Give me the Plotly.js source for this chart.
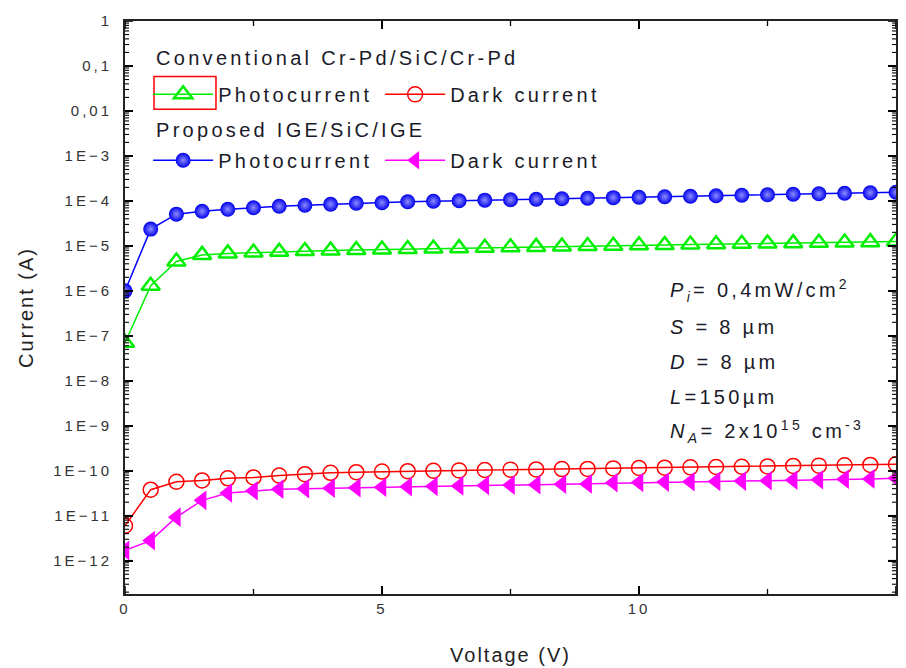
<!DOCTYPE html>
<html><head><meta charset="utf-8">
<script src="https://cdn.plot.ly/plotly-3.0.1.min.js"></script>
<style>
html,body{margin:0;padding:0;background:#fff;}
#chart{width:906px;height:668px;}
.ytick text,.xtick text{letter-spacing:3px;}
.xtitle,.ytitle{letter-spacing:2px;}
.annotation-text{letter-spacing:3.3px;}
.legendtext{letter-spacing:3.3px;}
</style></head><body><div id="chart"></div>
<script>
const voltage = [0,0.5,1,1.5,2,2.5,3,3.5,4,4.5,5,5.5,6,6.5,7,7.5,8,8.5,9,9.5,10,10.5,11,11.5,12,12.5,13,13.5,14,14.5,15];
const convPhoto = [7e-8,1.3e-6,4.5e-6,6.3e-6,6.8e-6,7.1e-6,7.4e-6,7.7e-6,7.9e-6,8.1e-6,8.3e-6,8.5e-6,8.7e-6,8.9e-6,9.1e-6,9.3e-6,9.5e-6,9.7e-6,9.9e-6,1.01e-5,1.03e-5,1.05e-5,1.07e-5,1.09e-5,1.11e-5,1.13e-5,1.15e-5,1.17e-5,1.19e-5,1.21e-5,1.25e-5];
const convDark = [6e-12,3.8e-11,5.7e-11,6.1e-11,6.8e-11,7.1e-11,7.8e-11,8.4e-11,9.0e-11,9.3e-11,9.6e-11,9.8e-11,1.0e-10,1.02e-10,1.04e-10,1.06e-10,1.07e-10,1.09e-10,1.1e-10,1.13e-10,1.15e-10,1.17e-10,1.19e-10,1.21e-10,1.23e-10,1.25e-10,1.28e-10,1.3e-10,1.32e-10,1.35e-10,1.4e-10];
const igePhoto = [1.0e-6,2.36e-5,5.07e-5,5.9e-5,6.5e-5,7.06e-5,7.6e-5,8.0e-5,8.45e-5,8.9e-5,9.1e-5,9.6e-5,9.85e-5,1.01e-4,1.04e-4,1.06e-4,1.09e-4,1.12e-4,1.15e-4,1.18e-4,1.21e-4,1.24e-4,1.27e-4,1.30e-4,1.34e-4,1.37e-4,1.41e-4,1.44e-4,1.48e-4,1.52e-4,1.56e-4];
const igeDark = [1.7e-12,2.8e-12,9.3e-12,2.2e-11,3.2e-11,3.6e-11,3.9e-11,4.0e-11,4.1e-11,4.2e-11,4.3e-11,4.4e-11,4.5e-11,4.6e-11,4.7e-11,4.8e-11,4.9e-11,5.0e-11,5.1e-11,5.4e-11,5.5e-11,5.6e-11,5.7e-11,5.8e-11,5.9e-11,6.0e-11,6.2e-11,6.3e-11,6.5e-11,6.6e-11,6.8e-11];
const seriesNames = ['Photocurrent', 'Dark current', 'Photocurrent', 'Dark current'];
const groupTitles = ['Conventional Cr-Pd/SiC/Cr-Pd', 'Proposed IGE/SiC/IGE'];
const xTickVals = [0,5,10,15];
const xMinorVals = [2.5,7.5,12.5];
const yTickVals = [1e-12,1e-11,1e-10,1e-9,1e-8,1e-7,1e-6,1e-5,1e-4,1e-3,1e-2,1e-1,1];

// minor tick values on the log axis: 2..9 x each decade
const yMinorVals = [];
for (let e = -13; e < 0; e++) for (let m = 2; m <= 9; m++) yMinorVals.push(m * Math.pow(10, e));

const FONT = 'Liberation Sans, Arial, sans-serif';
const sp = (t, s) => '<span style="letter-spacing:' + s + 'px">' + t + '</span>';

const traces = [
  {x: voltage, y: convPhoto, name: sp(seriesNames[0], 3.3), legend: 'legend', mode: 'lines+markers',
   line: {color: '#00ee00', width: 1.5},
   marker: {symbol: 'triangle-up-open', size: 16, color: '#00ee00', line: {width: 2.5, color: '#00ee00'}}},
  {x: voltage, y: convDark, name: sp(seriesNames[1], 3.3), legend: 'legend', mode: 'lines+markers',
   line: {color: '#ff0000', width: 1.5},
   marker: {symbol: 'circle-open', size: 15, color: '#ff0000', line: {width: 1.5, color: '#ff0000'}}},
  {x: voltage, y: igePhoto, name: sp(seriesNames[2], 3.3), legend: 'legend2', mode: 'lines+markers',
   line: {color: '#0000ff', width: 1.5},
   marker: {symbol: 'circle', size: 15, color: '#0000ee', gradient: {type: 'radial', color: '#8c8cff'}, line: {width: 0}}},
  {x: voltage, y: igeDark, name: sp(seriesNames[3], 3.3), legend: 'legend2', mode: 'lines+markers',
   line: {color: '#ff00ff', width: 1.5},
   marker: {symbol: 'triangle-left', size: 17, color: '#ff00ff', line: {width: 0}}}
];

const legendBase = {
  orientation: 'h', xanchor: 'left', yanchor: 'top', x: 0.03,
  font: {family: FONT, size: 20, color: '#1a1a28'},
  itemwidth: 60, entrywidth: 157, entrywidthmode: 'pixels',
  bgcolor: 'rgba(0,0,0,0)', borderwidth: 0
};

const annLines = [
  '<i>P</i><sub><i>i</i></sub>= 0,4mW/cm<sup>2</sup>',
  '<i>S</i> = 8 µm',
  '<i>D</i> = 8 µm',
  '<i>L</i>=150µm',
  '<i>N</i><sub><i>A</i></sub>= 2x10<sup>15</sup> cm<sup>-3</sup>'
];
const annY = [0.5305, 0.466, 0.405, 0.344, 0.283];

const annotations = annLines.map((t, i) => ({
  text: t, xref: 'paper', yref: 'paper', x: 0.704, y: annY[i], xanchor: 'left', yanchor: 'middle',
  showarrow: false, font: {family: FONT, size: 20, color: '#1a1a28'}
}));
annotations.push(
  {text: groupTitles[0], xref: 'paper', yref: 'paper', x: 0.037, y: 0.9354, xanchor: 'left', yanchor: 'middle',
   showarrow: false, font: {family: FONT, size: 20, color: '#1a1a28'}},
  {text: groupTitles[1], xref: 'paper', yref: 'paper', x: 0.037, y: 0.8098, xanchor: 'left', yanchor: 'middle',
   showarrow: false, font: {family: FONT, size: 20, color: '#1a1a28'}}
);

// tick marks drawn through the axes' own scales (inside, on all four sides)
const tickShapes = [];
const PLOT_W = 771, PLOT_H = 573;
function xTick(v, len, w) {
  const f = len / PLOT_H;
  [[0, f], [1, 1 - f]].forEach(([a, b]) => tickShapes.push({type: 'line', xref: 'x', yref: 'y domain',
    x0: v, x1: v, y0: a, y1: b, line: {color: '#000', width: w}, layer: 'above'}));
}
function yTick(v, len, w) {
  const f = len / PLOT_W;
  [[0, f], [1, 1 - f]].forEach(([a, b]) => tickShapes.push({type: 'line', xref: 'x domain', yref: 'y',
    x0: a, x1: b, y0: v, y1: v, line: {color: '#000', width: w}, layer: 'above'}));
}
xTickVals.forEach(v => xTick(v, 8, 1.6));
xMinorVals.forEach(v => xTick(v, 5, 1.3));
yTickVals.forEach(v => yTick(v, 8, 1.6));
yMinorVals.forEach(v => yTick(v, 4, 1.1));

const layout = {
  width: 906, height: 668,
  margin: {l: 125, r: 10, t: 21, b: 74},
  paper_bgcolor: '#fff', plot_bgcolor: '#fff',
  separators: ',.',
  font: {family: FONT, color: '#222'},
  showlegend: true,
  xaxis: {
    range: [0, 15], tickmode: 'linear', tick0: 0, dtick: 5,
    ticks: 'inside', ticklen: 8, tickwidth: 1.6, tickcolor: '#000',
    showline: true, linecolor: '#222', linewidth: 2, mirror: 'ticks',
    showgrid: false, zeroline: false,
    tickfont: {family: FONT, size: 15, color: '#333'},
    title: {text: 'Voltage (V)', font: {family: FONT, size: 20, color: '#222'}, standoff: 32}
  },
  yaxis: {
    type: 'log', range: [-12.74, 0], tickmode: 'linear', tick0: 0, dtick: 1, exponentformat: 'E',
    ticks: 'inside', ticklen: 8, tickwidth: 1.6, tickcolor: '#000',
    showline: true, linecolor: '#222', linewidth: 2, mirror: 'ticks',
    showgrid: false, zeroline: false, ticklabelstandoff: 8,
    tickfont: {family: FONT, size: 15, color: '#333'},
    title: {text: 'Current (A)', font: {family: FONT, size: 20, color: '#222'}, standoff: 14}
  },
  legend: Object.assign({}, legendBase, {y: 0.906}),
  legend2: Object.assign({}, legendBase, {y: 0.791}),
  shapes: [
    {type: 'rect', xref: 'paper', yref: 'paper', x0: 0.0376, x1: 0.118, y0: 0.846, y1: 0.903,
     line: {color: '#ff0000', width: 1.5}, fillcolor: 'rgba(0,0,0,0)'}
  ].concat(tickShapes),
  annotations: annotations
};

Plotly.newPlot('chart', traces, layout, {displayModeBar: false});
</script>
</body></html>
